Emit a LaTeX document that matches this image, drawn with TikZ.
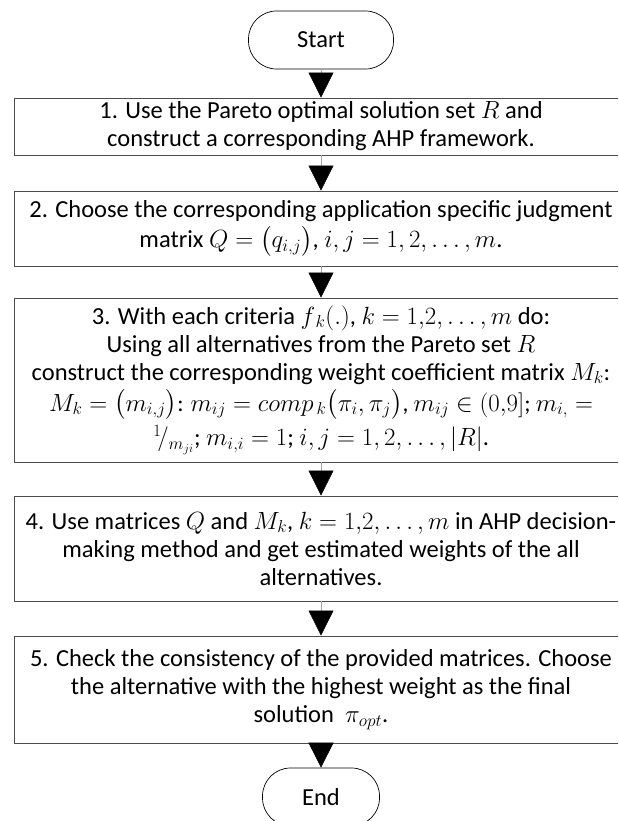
\documentclass[tikz,border=0pt]{standalone}
\usepackage{fontspec}
\setmainfont{Carlito}
\usepackage{amsmath}
\usetikzlibrary{arrows.meta}
\begin{document}
\begin{tikzpicture}[x=1pt,y=-1pt,
  font=\fontsize{24.5}{28}\selectfont,
  procbox/.style={draw=black!70, line width=0.9pt, rectangle, minimum width=614pt, align=center, inner sep=0pt},
  term/.style={draw=black, line width=0.7pt, rectangle, rounded corners=28pt, align=center, minimum height=58pt},
  flow/.style={draw=black!35, line width=0.6pt, -{Triangle[length=25pt,width=25pt,color=black,fill=black]}}
]
\clip (0,0) rectangle (618,821);
\node[term, minimum width=145pt] (start) at (321,40) {Start};
\node[procbox, minimum height=57pt] (b1) at (321,126.5) {1. Use the Pareto optimal solution set $R$ and\\construct a corresponding AHP framework.};
\node[procbox, minimum height=75pt] (b2) at (321,228.5) {2. Choose the corresponding application specific judgment\\[2pt]matrix $Q = \bigl(q_{i,j}\bigr)$, $i,j = 1, 2, \ldots, m$.};
\node[procbox, minimum height=164pt] (b3) at (321,380) {3. With each criteria $f_{\,k}(.)$, $k = 1{,}2,\ldots,m$ do:\\Using all alternatives from the Pareto set $R$\\construct the corresponding weight coefficient matrix $M_k$:\\[3pt]{\fontsize{23.5}{28}\selectfont$M_k = \bigl(m_{i,j}\bigr)$: $m_{ij} = comp_{\,k}\bigl(\pi_i,\pi_j\bigr)$, $m_{ij} \in (0{,}9]$; $m_{i,} =$}\\[5pt]${}^{1}\!/_{m_{ji}}$; $m_{i,i} = 1$; $i,j = 1, 2, \ldots, |R|$.};
\node[procbox, minimum height=105pt] (b4) at (321,548.5) {4. Use matrices $Q$ and $M_k$, $k = 1{,}2,\ldots,m$ in AHP decision-\\making method and get estimated weights of the all\\alternatives.};
\node[procbox, minimum height=107pt] (b5) at (321,689.5) {5. Check the consistency of the provided matrices. Choose\\the alternative with the highest weight as the final\\solution\ \ $\pi_{opt}$.};
\node[term, minimum width=117pt] (end) at (321,797) {End};
\draw[flow] (start.south) -- (b1.north);
\draw[flow] (b1.south) -- (b2.north);
\draw[flow] (b2.south) -- (b3.north);
\draw[flow] (b3.south) -- (b4.north);
\draw[flow] (b4.south) -- (b5.north);
\draw[flow] (b5.south) -- (end.north);
\end{tikzpicture}
\end{document}
